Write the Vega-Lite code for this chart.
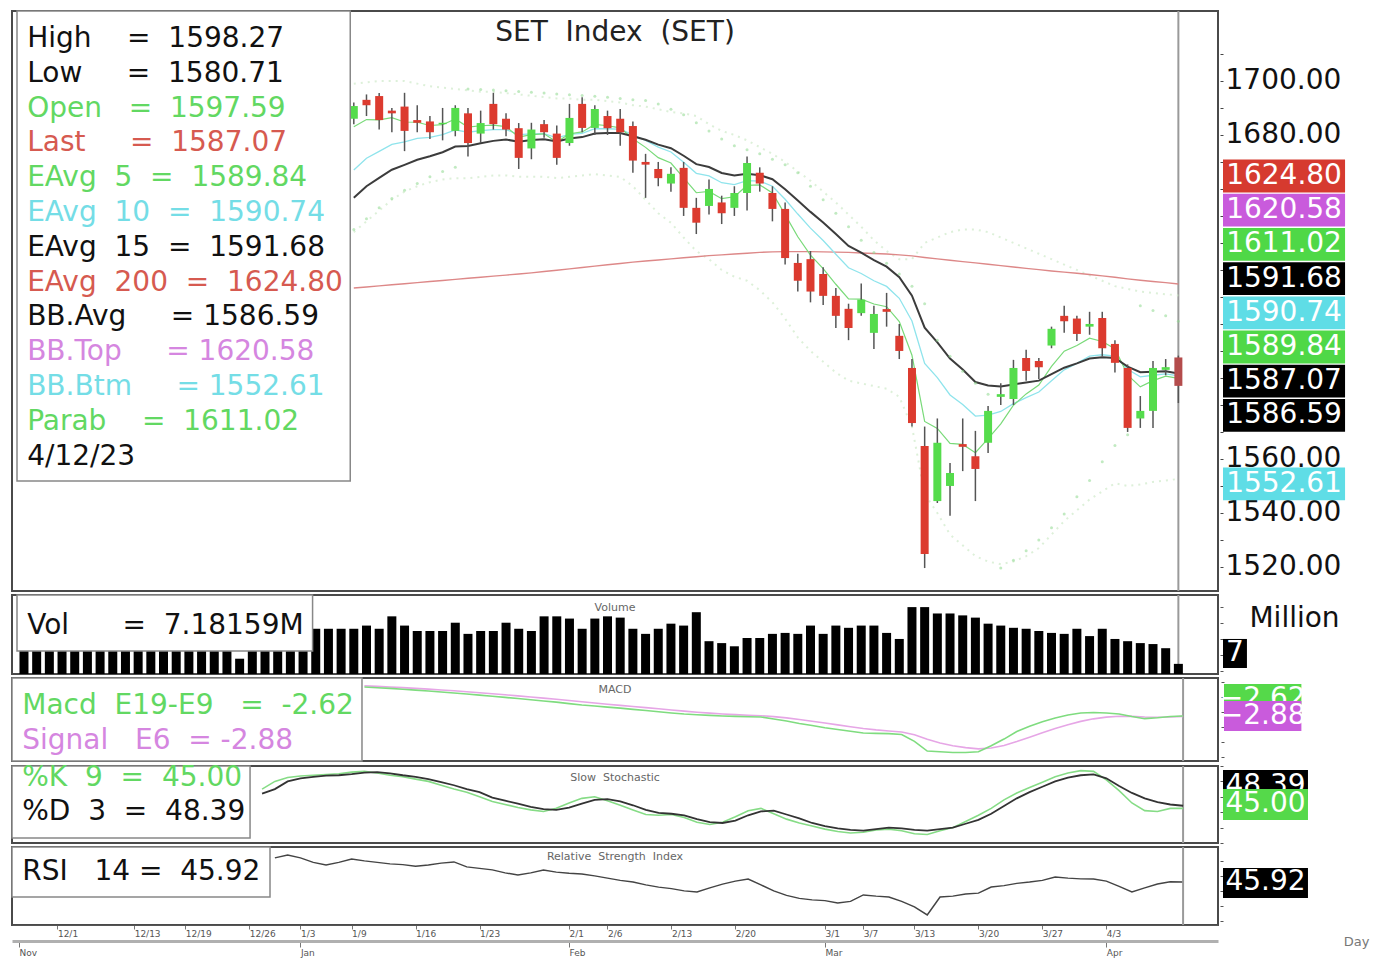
{
"$schema":"https://vega.github.io/schema/vega-lite/v6.json",
"background":"white",
"padding":{"left":10,"top":9,"right":8,"bottom":4},
"config":{"view":{"stroke":"#4a4a4a","strokeWidth":2},"font":"DejaVu Sans","title":{"font":"DejaVu Sans","fontWeight":"normal"},"axis":{"labelFont":"DejaVu Sans","titleFont":"DejaVu Sans","titleFontWeight":"normal"}},
"datasets":{
"px":[
{"i":0,"d":"11/28","v":17},{"i":1,"d":"11/29","v":18},{"i":2,"d":"11/30","v":16.5},{"i":3,"d":"12/1","v":17.5},{"i":4,"d":"12/2","v":19},{"i":5,"d":"12/6","v":16},{"i":6,"d":"12/7","v":18},{"i":7,"d":"12/8","v":17},{"i":8,"d":"12/9","v":16.5},{"i":9,"d":"12/13","v":18},{"i":10,"d":"12/14","v":17},{"i":11,"d":"12/15","v":19},{"i":12,"d":"12/16","v":16},{"i":13,"d":"12/19","v":17.5},{"i":14,"d":"12/20","v":18},{"i":15,"d":"12/21","v":16},{"i":16,"d":"12/22","v":17},{"i":17,"d":"12/23","v":8.8},{"i":18,"d":"12/26","v":15},
{"i":19,"d":"12/27","v":16,"k":70,"dd":64},
{"i":20,"d":"12/28","v":17,"k":80,"dd":70,"rsi":62},
{"i":21,"d":"12/29","v":15.5,"k":85,"dd":80,"rsi":63.9},
{"i":22,"d":"1/3","v":16,"k":87,"dd":84,"rsi":62},
{"i":23,"d":"1/4","v":18.2,"k":88,"dd":86,"rsi":59},
{"i":24,"d":"1/5","v":18.2,"k":89,"dd":87.5,"rsi":57.3},
{"i":25,"d":"1/6","v":18.2,"k":90,"dd":88,"rsi":59},
{"i":26,"d":"1/9","o":1686,"h":1692,"l":1684,"c":1690.7,"v":18.2,"e5":1683,"e10":1667,"e15":1656.7,"e200":1623.3,"bbt":1699,"bbb":1644,"sar":1645,"k":92,"dd":89.5,"rsi":61.3},
{"i":27,"d":"1/10","o":1693,"h":1695,"l":1687,"c":1691,"v":19.2,"e5":1685.7,"e10":1671.4,"e15":1661,"e200":1623.7,"bbt":1699.5,"bbb":1648,"sar":1649,"macd":16.7,"sig":17.5,"k":93,"dd":91.5,"rsi":60},
{"i":28,"d":"1/11","o":1694.4,"h":1695.5,"l":1682,"c":1685.5,"v":18.2,"e5":1685.6,"e10":1673.9,"e15":1664.1,"e200":1624.1,"bbt":1700,"bbb":1652,"sar":1653,"macd":16.2,"sig":17.13,"k":91,"dd":92,"rsi":59},
{"i":29,"d":"1/12","o":1689,"h":1690,"l":1681,"c":1688,"v":22.1,"e5":1686.4,"e10":1676.5,"e15":1667.1,"e200":1624.5,"bbt":1700,"bbb":1656,"sar":1656.5,"macd":15.8,"sig":16.75,"k":88,"dd":90.5,"rsi":58},
{"i":30,"d":"1/13","o":1690.5,"h":1695.6,"l":1674,"c":1681.5,"v":19.2,"e5":1684.8,"e10":1677.4,"e15":1668.9,"e200":1624.9,"bbt":1700,"bbb":1659,"sar":1659.5,"macd":15.2,"sig":16.31,"k":86,"dd":88,"rsi":57.5},
{"i":31,"d":"1/16","o":1685.5,"h":1691,"l":1681,"c":1684.5,"v":17.5,"e5":1684.7,"e10":1678.7,"e15":1670.8,"e200":1625.3,"bbt":1699,"bbb":1661,"sar":1662,"macd":14.6,"sig":15.82,"k":83,"dd":86,"rsi":56.5},
{"i":32,"d":"1/17","o":1685,"h":1687,"l":1678.5,"c":1681,"v":17.5,"e5":1683.5,"e10":1679.1,"e15":1672.1,"e200":1625.7,"bbt":1698,"bbb":1662.5,"sar":1664.5,"macd":14,"sig":15.3,"k":80,"dd":83,"rsi":57.3},
{"i":33,"d":"1/18","o":1684,"h":1690,"l":1678,"c":1684.5,"v":17.5,"e5":1683.8,"e10":1680.1,"e15":1673.6,"e200":1626.1,"bbt":1697.5,"bbb":1663.5,"sar":1666.5,"macd":13.4,"sig":14.76,"k":75,"dd":79,"rsi":58.5},
{"i":34,"d":"1/19","o":1681.5,"h":1691,"l":1679.5,"c":1690,"v":20.1,"e5":1685.9,"e10":1681.9,"e15":1675.7,"e200":1626.5,"bbt":1697,"bbb":1664,"sar":1668,"macd":12.7,"sig":14.17,"k":70,"dd":75,"rsi":59.3},
{"i":35,"d":"1/20","o":1688,"h":1690,"l":1672,"c":1677,"v":16.6,"e5":1682.9,"e10":1681,"e15":1675.9,"e200":1626.9,"bbt":1696.5,"bbb":1664,"sar":1697,"macd":12,"sig":13.55,"k":66,"dd":70,"rsi":56},
{"i":36,"d":"1/23","o":1680.5,"h":1689,"l":1677,"c":1684.4,"v":17.5,"e5":1683.4,"e10":1681.6,"e15":1676.9,"e200":1627.3,"bbt":1696,"bbb":1664.5,"sar":1696.8,"macd":11.3,"sig":12.91,"k":60,"dd":66,"rsi":55},
{"i":37,"d":"1/24","o":1691.5,"h":1695.6,"l":1682,"c":1684,"v":17.5,"e5":1683.6,"e10":1682,"e15":1677.8,"e200":1627.7,"bbt":1696,"bbb":1665,"sar":1696.6,"macd":10.5,"sig":12.22,"k":54,"dd":59,"rsi":54},
{"i":38,"d":"1/25","o":1686,"h":1688,"l":1679.5,"c":1682,"v":20.1,"e5":1683.1,"e10":1682,"e15":1678.3,"e200":1628.1,"bbt":1695.5,"bbb":1665,"sar":1696.4,"macd":9.8,"sig":11.53,"k":50,"dd":55,"rsi":52},
{"i":39,"d":"1/26","o":1682.5,"h":1684.4,"l":1667.4,"c":1671.5,"v":18.2,"e5":1679.2,"e10":1680.1,"e15":1677.5,"e200":1628.5,"bbt":1695,"bbb":1664.5,"sar":1696.1,"macd":9,"sig":10.81,"k":46,"dd":51,"rsi":50.6},
{"i":40,"d":"1/27","o":1675,"h":1684.5,"l":1671,"c":1682,"v":17.5,"e5":1680.1,"e10":1680.4,"e15":1678.1,"e200":1628.9,"bbt":1694.5,"bbb":1664.5,"sar":1695.8,"macd":8.2,"sig":10.06,"k":43,"dd":47,"rsi":52},
{"i":41,"d":"1/30","o":1684,"h":1685.5,"l":1679,"c":1681,"v":22.1,"e5":1680.4,"e10":1680.5,"e15":1678.4,"e200":1629.4,"bbt":1694,"bbb":1664.5,"sar":1695.5,"macd":7.4,"sig":9.3,"k":41,"dd":44,"rsi":53.9},
{"i":42,"d":"1/31","o":1680.5,"h":1683.5,"l":1669,"c":1671.5,"v":22.1,"e5":1677.4,"e10":1678.9,"e15":1677.6,"e200":1629.9,"bbt":1693.5,"bbb":1664,"sar":1695.2,"macd":6.6,"sig":8.53,"k":45,"dd":43,"rsi":52.5},
{"i":43,"d":"2/1","o":1677,"h":1691.5,"l":1676,"c":1686.3,"v":21.4,"e5":1680.4,"e10":1680.2,"e15":1678.7,"e200":1630.4,"bbt":1693.5,"bbb":1664.5,"sar":1694.9,"macd":5.6,"sig":7.69,"k":52,"dd":46,"rsi":51.8},
{"i":44,"d":"2/2","o":1691.5,"h":1694,"l":1681,"c":1682.6,"v":18.2,"e5":1681.1,"e10":1680.6,"e15":1679.2,"e200":1630.9,"bbt":1693,"bbb":1665,"sar":1694.6,"macd":4.7,"sig":6.84,"k":58,"dd":51,"rsi":51.3},
{"i":45,"d":"2/3","o":1682.6,"h":1691,"l":1680,"c":1689.6,"v":21.4,"e5":1683.9,"e10":1682.3,"e15":1680.5,"e200":1631.4,"bbt":1693,"bbb":1665.5,"sar":1694.3,"macd":4,"sig":6.03,"k":60,"dd":56,"rsi":50},
{"i":46,"d":"2/6","o":1687,"h":1689,"l":1680,"c":1682.5,"v":22.1,"e5":1683.4,"e10":1682.3,"e15":1680.7,"e200":1631.9,"bbt":1692.5,"bbb":1665,"sar":1694,"macd":3.3,"sig":5.25,"k":55,"dd":57,"rsi":48.5},
{"i":47,"d":"2/7","o":1686,"h":1689.6,"l":1676,"c":1681,"v":21.7,"e5":1682.6,"e10":1682.1,"e15":1680.7,"e200":1632.4,"bbt":1692,"bbb":1664.5,"sar":1693.5,"macd":2.6,"sig":4.49,"k":49,"dd":54,"rsi":47},
{"i":48,"d":"2/8","o":1683.3,"h":1685,"l":1666,"c":1670.5,"v":18.2,"e5":1678.6,"e10":1680,"e15":1679.5,"e200":1632.9,"bbt":1691,"bbb":1661,"sar":1693,"macd":1.8,"sig":3.72,"k":43,"dd":49,"rsi":45.9},
{"i":49,"d":"2/9","o":1670,"h":1673,"l":1656.7,"c":1669,"v":16.6,"e5":1675.4,"e10":1678,"e15":1678.2,"e200":1633.3,"bbt":1690.5,"bbb":1656,"sar":1692.8,"macd":1,"sig":2.94,"k":37,"dd":43,"rsi":44},
{"i":50,"d":"2/10","o":1667.4,"h":1670,"l":1661,"c":1664,"v":18.2,"e5":1671.6,"e10":1675.5,"e15":1676.4,"e200":1633.7,"bbt":1689.5,"bbb":1651,"sar":1691.5,"macd":0.2,"sig":2.16,"k":36,"dd":39,"rsi":42.5},
{"i":51,"d":"2/13","o":1662,"h":1668,"l":1659,"c":1665.6,"v":19.8,"e5":1669.6,"e10":1673.7,"e15":1675.1,"e200":1634.1,"bbt":1688.5,"bbb":1647.5,"sar":1689.5,"macd":-0.6,"sig":1.37,"k":37,"dd":38,"rsi":41.5},
{"i":52,"d":"2/14","o":1667.8,"h":1670,"l":1650,"c":1653,"v":19.2,"e5":1664.1,"e10":1669.9,"e15":1672.3,"e200":1634.5,"bbt":1688,"bbb":1642,"sar":1687.5,"macd":-1.3,"sig":0.61,"k":33,"dd":36,"rsi":40},
{"i":53,"d":"2/15","o":1653,"h":1656.7,"l":1643.3,"c":1647.5,"v":23.4,"e5":1658.6,"e10":1665.8,"e15":1669.2,"e200":1634.9,"bbt":1687,"bbb":1637,"sar":1684.5,"macd":-1.8,"sig":-0.08,"k":27,"dd":31,"rsi":39.3},
{"i":54,"d":"2/16","o":1653.7,"h":1663.5,"l":1650.5,"c":1660,"v":14.3,"e5":1659.1,"e10":1664.8,"e15":1668.1,"e200":1635.3,"bbt":1684,"bbb":1634,"sar":1681.5,"macd":-2.2,"sig":-0.69,"k":24,"dd":27,"rsi":42},
{"i":55,"d":"2/17","o":1655,"h":1657.5,"l":1647,"c":1651,"v":13.7,"e5":1656.4,"e10":1662.3,"e15":1665.9,"e200":1635.6,"bbt":1681.5,"bbb":1630,"sar":1678.5,"macd":-2.6,"sig":-1.24,"k":27,"dd":26,"rsi":44.5},
{"i":56,"d":"2/20","o":1653,"h":1661,"l":1650,"c":1658.5,"v":12.7,"e5":1657.1,"e10":1661.6,"e15":1665,"e200":1635.9,"bbt":1680,"bbb":1627.5,"sar":1676,"macd":-2.9,"sig":-1.71,"k":34,"dd":29,"rsi":46.5},
{"i":57,"d":"2/21","o":1658.5,"h":1672,"l":1652,"c":1669.6,"v":15.3,"e5":1661.3,"e10":1663.1,"e15":1665.6,"e200":1636.2,"bbt":1678,"bbb":1626,"sar":1674.5,"macd":-3.1,"sig":-2.11,"k":42,"dd":36,"rsi":47.9},
{"i":58,"d":"2/22","o":1666,"h":1668,"l":1659,"c":1662,"v":15.3,"e5":1661.5,"e10":1662.9,"e15":1665.1,"e200":1636.5,"bbt":1675.5,"bbb":1622.5,"sar":1673,"macd":-3.3,"sig":-2.45,"k":45,"dd":41,"rsi":44},
{"i":59,"d":"2/23","o":1658.5,"h":1661,"l":1648,"c":1652.6,"v":16.6,"e5":1658.5,"e10":1661,"e15":1663.6,"e200":1636.7,"bbt":1673,"bbb":1618,"sar":1671,"macd":-4.6,"sig":-3.06,"k":38,"dd":42,"rsi":40},
{"i":60,"d":"2/24","o":1652.6,"h":1655,"l":1632,"c":1634.4,"v":16.9,"e5":1650.5,"e10":1656.2,"e15":1659.9,"e200":1636.8,"bbt":1670,"bbb":1612,"sar":1669,"macd":-6,"sig":-3.9,"k":31,"dd":37,"rsi":37},
{"i":61,"d":"2/27","o":1632.6,"h":1636,"l":1622,"c":1626,"v":16.6,"e5":1642.3,"e10":1650.7,"e15":1655.7,"e200":1636.8,"bbt":1666.5,"bbb":1605,"sar":1666,"macd":-7.6,"sig":-4.96,"k":26,"dd":32,"rsi":35},
{"i":62,"d":"2/28","o":1634,"h":1637,"l":1618,"c":1622,"v":19.2,"e5":1635.5,"e10":1645.5,"e15":1651.5,"e200":1636.8,"bbt":1663,"bbb":1600,"sar":1661,"macd":-9,"sig":-6.11,"k":22,"dd":26,"rsi":34},
{"i":63,"d":"3/1","o":1628.5,"h":1631,"l":1617,"c":1620.4,"v":16.6,"e5":1630.5,"e10":1640.9,"e15":1647.6,"e200":1636.7,"bbt":1659,"bbb":1596,"sar":1656,"macd":-10.4,"sig":-7.34,"k":18,"dd":22,"rsi":33.5},
{"i":64,"d":"3/2","o":1620.4,"h":1623.3,"l":1608.5,"c":1613,"v":19.2,"e5":1624.7,"e10":1635.8,"e15":1643.3,"e200":1636.6,"bbt":1655,"bbb":1592,"sar":1651,"macd":-11.6,"sig":-8.56,"k":15,"dd":19,"rsi":32},
{"i":65,"d":"3/3","o":1615.6,"h":1617.5,"l":1604,"c":1608.5,"v":18.5,"e5":1619.3,"e10":1630.8,"e15":1638.9,"e200":1636.5,"bbt":1650.5,"bbb":1589,"sar":1646,"macd":-12.8,"sig":-9.77,"k":13,"dd":17,"rsi":33},
{"i":66,"d":"3/7","o":1614,"h":1625,"l":1613,"c":1619,"v":19.2,"e5":1619.2,"e10":1628.7,"e15":1636.4,"e200":1636.3,"bbt":1646,"bbb":1588,"sar":1641,"macd":-14,"sig":-10.98,"k":14,"dd":16,"rsi":37.3},
{"i":67,"d":"3/8","o":1606.7,"h":1616.7,"l":1600.7,"c":1613.7,"v":19.2,"e5":1617.4,"e10":1626,"e15":1633.6,"e200":1636.1,"bbt":1641,"bbb":1587,"sar":1636.5,"macd":-14.2,"sig":-11.9,"k":17,"dd":18,"rsi":36.5},
{"i":68,"d":"3/9","o":1615.5,"h":1621.5,"l":1609,"c":1614.5,"v":16.9,"e5":1616.4,"e10":1623.9,"e15":1631.2,"e200":1635.9,"bbt":1637,"bbb":1586,"sar":1632.5,"macd":-14.4,"sig":-12.61,"k":18,"dd":20,"rsi":35.9},
{"i":69,"d":"3/10","o":1605.6,"h":1610,"l":1597,"c":1600,"v":15,"e5":1610.9,"e10":1619.5,"e15":1627.3,"e200":1635.6,"bbt":1634,"bbb":1583,"sar":1628.5,"macd":-15,"sig":-13.29,"k":16,"dd":19,"rsi":33},
{"i":70,"d":"3/13","o":1593.7,"h":1597,"l":1572,"c":1573.3,"v":25,"e5":1598.4,"e10":1611.1,"e15":1620.5,"e200":1635.2,"bbt":1634,"bbb":1572,"sar":1624,"macd":-19.5,"sig":-15.06,"k":12,"dd":17,"rsi":29.3},
{"i":71,"d":"3/14","o":1564.8,"h":1572,"l":1519.6,"c":1524.8,"v":25,"e5":1573.9,"e10":1595.4,"e15":1608.6,"e200":1634.6,"bbt":1640,"bbb":1547,"sar":1617.5,"macd":-26,"sig":-18.19,"k":11,"dd":16,"rsi":24},
{"i":72,"d":"3/15","o":1544.4,"h":1575,"l":1543.7,"c":1566,"v":23,"e5":1571.3,"e10":1590.1,"e15":1603.2,"e200":1634.1,"bbt":1642,"bbb":1540,"sar":1604,"macd":-26.5,"sig":-20.56,"k":16,"dd":18,"rsi":35.9},
{"i":73,"d":"3/16","o":1550,"h":1558.5,"l":1539,"c":1554.8,"v":23,"e5":1565.8,"e10":1583.7,"e15":1597.2,"e200":1633.6,"bbt":1644,"bbb":1532,"sar":1598,"macd":-27,"sig":-22.4,"k":20,"dd":20,"rsi":36.5},
{"i":74,"d":"3/17","o":1565.5,"h":1575,"l":1555.5,"c":1564.5,"v":22.4,"e5":1565.4,"e10":1580.2,"e15":1593.1,"e200":1633.1,"bbt":1645,"bbb":1528,"sar":1592.5,"macd":-27,"sig":-23.71,"k":28,"dd":25,"rsi":37.9},
{"i":75,"d":"3/20","o":1561,"h":1570.4,"l":1544.4,"c":1556.3,"v":21.7,"e5":1562.3,"e10":1575.9,"e15":1588.5,"e200":1632.6,"bbt":1645,"bbb":1524,"sar":1588,"macd":-26.5,"sig":-24.51,"k":36,"dd":30,"rsi":38.5},
{"i":76,"d":"3/21","o":1566,"h":1579.6,"l":1562.2,"c":1577.8,"v":19.8,"e5":1567.5,"e10":1576.2,"e15":1587.2,"e200":1632.1,"bbt":1644,"bbb":1522,"sar":1584,"macd":-22.5,"sig":-23.94,"k":45,"dd":38,"rsi":42.6},
{"i":77,"d":"3/22","o":1583,"h":1588,"l":1580,"c":1584,"v":19.2,"e5":1573,"e10":1577.6,"e15":1586.8,"e200":1631.6,"bbt":1642,"bbb":1521,"sar":1519.6,"macd":-18,"sig":-22.24,"k":56,"dd":48,"rsi":43.5},
{"i":78,"d":"3/23","o":1582.2,"h":1596.7,"l":1580,"c":1593.7,"v":18.5,"e5":1579.9,"e10":1580.5,"e15":1587.6,"e200":1631.1,"bbt":1640,"bbb":1522,"sar":1522.5,"macd":-13,"sig":-19.6,"k":65,"dd":58,"rsi":45},
{"i":79,"d":"3/24","o":1597.4,"h":1600.4,"l":1589,"c":1592.6,"v":18.2,"e5":1584.1,"e10":1582.7,"e15":1588.3,"e200":1630.6,"bbt":1638,"bbb":1524,"sar":1526,"macd":-9.5,"sig":-16.71,"k":72,"dd":66,"rsi":45.9},
{"i":80,"d":"3/27","o":1596.3,"h":1597.4,"l":1589.6,"c":1594,"v":17.5,"e5":1587.4,"e10":1584.8,"e15":1589,"e200":1630.1,"bbt":1636,"bbb":1527,"sar":1530,"macd":-6.5,"sig":-13.79,"k":79,"dd":73,"rsi":47},
{"i":81,"d":"3/28","o":1602,"h":1609,"l":1601,"c":1608.2,"v":16.9,"e5":1594.3,"e10":1589,"e15":1591.4,"e200":1629.6,"bbt":1634,"bbb":1532,"sar":1534.5,"macd":-4,"sig":-10.99,"k":86,"dd":80,"rsi":49.3},
{"i":82,"d":"3/29","o":1613,"h":1616.7,"l":1606.7,"c":1611,"v":16.6,"e5":1599.9,"e10":1593,"e15":1593.8,"e200":1629.2,"bbt":1632,"bbb":1537,"sar":1539.6,"macd":-2,"sig":-8.42,"k":91,"dd":85,"rsi":48.5},
{"i":83,"d":"3/30","o":1612,"h":1613,"l":1603.7,"c":1606.3,"v":18.2,"e5":1602,"e10":1595.4,"e15":1595.4,"e200":1628.8,"bbt":1630,"bbb":1541,"sar":1546,"macd":-0.6,"sig":-6.19,"k":94,"dd":88,"rsi":48},
{"i":84,"d":"3/31","o":1609,"h":1614.5,"l":1606,"c":1610,"v":15.9,"e5":1604.7,"e10":1598.1,"e15":1597.2,"e200":1628.3,"bbt":1628,"bbb":1545,"sar":1552,"macd":-0.3,"sig":-4.51,"k":93,"dd":89,"rsi":47.9},
{"i":85,"d":"4/3","o":1612.2,"h":1614.5,"l":1598,"c":1601,"v":18.2,"e5":1603.5,"e10":1598.6,"e15":1597.7,"e200":1627.8,"bbt":1626,"bbb":1548,"sar":1559,"macd":-0.6,"sig":-3.39,"k":82,"dd":84,"rsi":46.5},
{"i":86,"d":"4/4","o":1602.6,"h":1604,"l":1592,"c":1595.6,"v":15,"e5":1600.8,"e10":1598.1,"e15":1597.4,"e200":1627.3,"bbt":1624,"bbb":1551,"sar":1565,"macd":-1.3,"sig":-2.79,"k":68,"dd":74,"rsi":43},
{"i":87,"d":"4/5","o":1593.7,"h":1595,"l":1570,"c":1571.5,"v":14.3,"e5":1591.1,"e10":1593.2,"e15":1594.2,"e200":1626.7,"bbt":1623,"bbb":1550,"sar":1569,"macd":-3,"sig":-2.85,"k":52,"dd":65,"rsi":39.3},
{"i":88,"d":"4/7","o":1575,"h":1583.3,"l":1571.5,"c":1577.8,"v":13.7,"e5":1586.7,"e10":1590.4,"e15":1592.1,"e200":1626.2,"bbt":1622,"bbb":1550.5,"sar":1616.7,"macd":-4.4,"sig":-3.29,"k":42,"dd":58,"rsi":42},
{"i":89,"d":"4/10","o":1577.8,"h":1596.3,"l":1571.5,"c":1593.7,"v":13.4,"e5":1589,"e10":1591,"e15":1592.3,"e200":1625.7,"bbt":1621.5,"bbb":1551.5,"sar":1615,"macd":-3.8,"sig":-3.44,"k":41,"dd":53,"rsi":44.6},
{"i":90,"d":"4/11","o":1593,"h":1597,"l":1591,"c":1594,"v":12.1,"e5":1590.7,"e10":1591.5,"e15":1592.5,"e200":1625.3,"bbt":1621,"bbb":1552,"sar":1613,"macd":-3,"sig":-3.31,"k":45,"dd":50,"rsi":46},
{"i":91,"d":"4/12","o":1597.59,"h":1598.27,"l":1580.71,"c":1587.07,"v":7.18159,"e5":1589.84,"e10":1590.74,"e15":1591.68,"e200":1624.8,"bbt":1620.58,"bbb":1552.61,"sar":1611.02,"macd":-2.62,"sig":-2.88,"k":45,"dd":48.39,"rsi":45.92}
],
"leg":[
{"k":"High","t":"High\u00a0\u00a0\u00a0\u00a0=\u00a0\u00a01598.27"},
{"k":"Low","t":"Low\u00a0\u00a0\u00a0\u00a0\u00a0=\u00a0\u00a01580.71"},
{"k":"Open","t":"Open\u00a0\u00a0\u00a0=\u00a0\u00a01597.59"},
{"k":"Last","t":"Last\u00a0\u00a0\u00a0\u00a0\u00a0=\u00a0\u00a01587.07"},
{"k":"EAvg 5","t":"EAvg\u00a0\u00a05\u00a0\u00a0=\u00a0\u00a01589.84"},
{"k":"EAvg 10","t":"EAvg\u00a0\u00a010\u00a0\u00a0=\u00a0\u00a01590.74"},
{"k":"EAvg 15","t":"EAvg\u00a0\u00a015\u00a0\u00a0=\u00a0\u00a01591.68"},
{"k":"EAvg 200","t":"EAvg\u00a0\u00a0200\u00a0\u00a0=\u00a0\u00a01624.80"},
{"k":"BB.Avg","t":"BB.Avg\u00a0\u00a0\u00a0\u00a0\u00a0=\u00a01586.59"},
{"k":"BB.Top","t":"BB.Top\u00a0\u00a0\u00a0\u00a0\u00a0=\u00a01620.58"},
{"k":"BB.Btm","t":"BB.Btm\u00a0\u00a0\u00a0\u00a0\u00a0=\u00a01552.61"},
{"k":"Parab","t":"Parab\u00a0\u00a0\u00a0\u00a0=\u00a0\u00a01611.02"},
{"k":"Date","t":"\u00a0\u00a04/12/23"}
],
"sideMain":[
{"k":"EAvg 200","v":1624.80},{"k":"BB.Top","v":1620.58},{"k":"Parab","v":1611.02},{"k":"EAvg 15","v":1591.68},{"k":"EAvg 10","v":1590.74},{"k":"EAvg 5","v":1589.84},{"k":"Last","v":1587.07},{"k":"BB.Avg","v":1586.59},{"k":"BB.Btm","v":1552.61}
]
},
"spacing":0,
"vconcat":[
{"spacing":0,"hconcat":[
 {"width":1206,"height":580,
  "data":{"name":"px"},
  "layer":[
   {"layer":[
     {"data":{"values":[{"i":91}]},"mark":{"type":"rule","color":"#9a9a9a","strokeWidth":2},"encoding":{"x":{"field":"i","type":"quantitative","scale":{"domain":[-0.55,93.73],"nice":false,"zero":false},"axis":null}}},
     {"mark":{"type":"line","color":"#cfe9c9","strokeWidth":2,"strokeDash":[2,5],"opacity":0.7},"encoding":{"x":{"field":"i","type":"quantitative","scale":{"domain":[-0.55,93.73],"nice":false,"zero":false},"axis":null},"y":{"field":"bbt","type":"quantitative","scale":{"domain":[1511.1,1725.9],"nice":false,"zero":false},"axis":null}}},
     {"mark":{"type":"line","color":"#cfe9c9","strokeWidth":2,"strokeDash":[2,5],"opacity":0.7},"encoding":{"x":{"field":"i","type":"quantitative","scale":{"domain":[-0.55,93.73],"nice":false,"zero":false},"axis":null},"y":{"field":"bbb","type":"quantitative","scale":{"domain":[1511.1,1725.9],"nice":false,"zero":false},"axis":null}}},
     {"mark":{"type":"line","color":"#dd8888","strokeWidth":1.4},"encoding":{"x":{"field":"i","type":"quantitative","scale":{"domain":[-0.55,93.73],"nice":false,"zero":false},"axis":null},"y":{"field":"e200","type":"quantitative","scale":{"domain":[1511.1,1725.9],"nice":false,"zero":false},"axis":null}}},
     {"mark":{"type":"line","color":"#8fe4ec","strokeWidth":1.3},"encoding":{"x":{"field":"i","type":"quantitative","scale":{"domain":[-0.55,93.73],"nice":false,"zero":false},"axis":null},"y":{"field":"e10","type":"quantitative","scale":{"domain":[1511.1,1725.9],"nice":false,"zero":false},"axis":null}}},
     {"mark":{"type":"line","color":"#79da79","strokeWidth":1.2},"encoding":{"x":{"field":"i","type":"quantitative","scale":{"domain":[-0.55,93.73],"nice":false,"zero":false},"axis":null},"y":{"field":"e5","type":"quantitative","scale":{"domain":[1511.1,1725.9],"nice":false,"zero":false},"axis":null}}},
     {"mark":{"type":"line","color":"#3c3c3c","strokeWidth":2},"encoding":{"x":{"field":"i","type":"quantitative","scale":{"domain":[-0.55,93.73],"nice":false,"zero":false},"axis":null},"y":{"field":"e15","type":"quantitative","scale":{"domain":[1511.1,1725.9],"nice":false,"zero":false},"axis":null}}},
     {"mark":{"type":"point","filled":true,"size":9,"color":"#8ed88e","opacity":0.55},"encoding":{"x":{"field":"i","type":"quantitative","scale":{"domain":[-0.55,93.73],"nice":false,"zero":false},"axis":null},"y":{"field":"sar","type":"quantitative","scale":{"domain":[1511.1,1725.9],"nice":false,"zero":false},"axis":null}}},
     {"mark":{"type":"rule","color":"#555555","strokeWidth":1.5},"encoding":{"x":{"field":"i","type":"quantitative","scale":{"domain":[-0.55,93.73],"nice":false,"zero":false},"axis":null},"y":{"field":"l","type":"quantitative","scale":{"domain":[1511.1,1725.9],"nice":false,"zero":false},"axis":null},"y2":{"field":"h"}}},
     {"mark":{"type":"bar","size":8},"encoding":{"x":{"field":"i","type":"quantitative","scale":{"domain":[-0.55,93.73],"nice":false,"zero":false},"axis":null},"y":{"field":"o","type":"quantitative","scale":{"domain":[1511.1,1725.9],"nice":false,"zero":false},"axis":null},"y2":{"field":"c"},"color":{"condition":[{"test":"datum.i == 91","value":"#b44c4c"},{"test":"datum.c >= datum.o","value":"#55dc4c"}],"value":"#dc3b2f"}}},
     {"data":{"values":[{}]},"mark":{"type":"rect","fill":"#ffffff","stroke":"#888888","strokeWidth":1.5},"encoding":{"x":{"datum":-0.55,"type":"quantitative","scale":{"domain":[-0.55,93.73],"nice":false,"zero":false},"axis":null},"x2":{"datum":25.72},"y":{"datum":1725.9,"type":"quantitative","scale":{"domain":[1511.1,1725.9],"nice":false,"zero":false},"axis":null},"y2":{"datum":1551.85}}},
     {"data":{"values":[{"t":"SET\u00a0\u00a0Index\u00a0\u00a0(SET)"}]},"mark":{"type":"text","font":"DejaVu Sans","fontSize":28,"color":"#222222","align":"center","baseline":"middle"},"encoding":{"x":{"datum":46.59,"type":"quantitative","scale":{"domain":[-0.55,93.73],"nice":false,"zero":false},"axis":null},"y":{"datum":1717.8,"type":"quantitative","scale":{"domain":[1511.1,1725.9],"nice":false,"zero":false},"axis":null},"text":{"field":"t"}}}
    ]},
   {"data":{"name":"leg"},"mark":{"type":"text","font":"DejaVu Sans","fontSize":28,"align":"left","baseline":"middle"},
    "encoding":{"x":{"datum":0.25,"type":"quantitative","scale":{"domain":[-0.55,93.73],"nice":false,"zero":false},"axis":null},
     "y":{"field":"k","type":"ordinal","scale":{"type":"band","domain":["High","Low","Open","Last","EAvg 5","EAvg 10","EAvg 15","EAvg 200","BB.Avg","BB.Top","BB.Btm","Parab","Date","z1","z2","z3"],"paddingInner":0,"paddingOuter":0.333,"align":0.457},"axis":null},
     "text":{"field":"t"},
     "color":{"field":"k","type":"nominal","scale":{"domain":["High","Low","Open","Last","EAvg 5","EAvg 10","EAvg 15","EAvg 200","BB.Avg","BB.Top","BB.Btm","Parab","Date"],"range":["#111111","#111111","#62d862","#d65a50","#62d862","#74dde6","#111111","#d65a50","#111111","#d586e0","#74dde6","#62d862","#111111"]},"legend":null}}}
  ],
  "resolve":{"scale":{"y":"independent","color":"independent"}}
 },
 {"width":146,"height":580,"view":{"stroke":null},
  "layer":[
   {"data":{"name":"sideMain"},"mark":{"type":"point","opacity":0},
    "encoding":{"y":{"field":"v","type":"quantitative","scale":{"domain":[1511.1,1725.9],"nice":false,"zero":false},
     "axis":{"orient":"left","values":[1520,1530,1540,1550,1560,1570,1580,1590,1600,1610,1620,1630,1640,1650,1660,1670,1680,1690,1700,1710],"labelExpr":"(datum.value == 1520 || datum.value == 1540 || datum.value == 1560 || datum.value == 1680 || datum.value == 1700) ? format(datum.value, '.2f') : ''","labelAlign":"left","labelBaseline":"middle","labelPadding":-5,"labelFont":"DejaVu Sans","labelFontSize":28,"labelColor":"#111111","tickSize":3,"tickColor":"#444444","domain":false,"grid":false,"title":null,"labelOverlap":false,"labelBound":false,"labelFlush":false}}}},
   {"data":{"name":"sideMain"},
    "layer":[
     {"mark":{"type":"rect"},"encoding":{
       "y":{"field":"k","type":"ordinal","scale":{"type":"band","domain":["s1","s2","s3","s4","EAvg 200","BB.Top","Parab","EAvg 15","EAvg 10","EAvg 5","Last","BB.Avg","s5","BB.Btm","s6","s7"],"paddingInner":0.04,"paddingOuter":0.4995,"align":0.345},"axis":null},
       "x":{"datum":0,"type":"quantitative","scale":{"domain":[0,1],"nice":false,"zero":false},"axis":null},"x2":{"datum":0.836},
       "color":{"field":"k","type":"nominal","scale":{"domain":["EAvg 200","BB.Top","Parab","EAvg 15","EAvg 10","EAvg 5","Last","BB.Avg","BB.Btm"],"range":["#d63a2f","#c95bdc","#4fd847","#000000","#5fdde6","#4fd847","#000000","#000000","#5fdde6"]},"legend":null}}},
     {"mark":{"type":"text","font":"DejaVu Sans","fontSize":28,"color":"#ffffff","align":"center","baseline":"middle"},"encoding":{
       "y":{"field":"k","type":"ordinal","scale":{"type":"band","domain":["s1","s2","s3","s4","EAvg 200","BB.Top","Parab","EAvg 15","EAvg 10","EAvg 5","Last","BB.Avg","s5","BB.Btm","s6","s7"],"paddingInner":0.04,"paddingOuter":0.4995,"align":0.345},"axis":null},
       "x":{"datum":0.418,"type":"quantitative","scale":{"domain":[0,1],"nice":false,"zero":false},"axis":null},
       "text":{"field":"v","format":".2f"}}}
    ]}
  ],
  "resolve":{"scale":{"y":"independent"}}
 }
]},
{"spacing":0,"hconcat":[
 {"width":1206,"height":79,
  "data":{"name":"px"},
  "layer":[
   {"data":{"values":[{"i":91}]},"mark":{"type":"rule","color":"#9a9a9a","strokeWidth":2},"encoding":{"x":{"field":"i","type":"quantitative","scale":{"domain":[-0.55,93.73],"nice":false,"zero":false},"axis":null}}},
   {"mark":{"type":"bar","size":9,"color":"#000000"},"encoding":{"x":{"field":"i","type":"quantitative","scale":{"domain":[-0.55,93.73],"nice":false,"zero":false},"axis":null},"y":{"field":"v","type":"quantitative","scale":{"domain":[4,28.8],"nice":false,"zero":false},"axis":null},"y2":{"datum":4}}},
   {"data":{"values":[{"t":"Volume"}]},"mark":{"type":"text","font":"DejaVu Sans","fontSize":11,"color":"#666666","align":"center","baseline":"middle"},"encoding":{"x":{"datum":46.59,"type":"quantitative","scale":{"domain":[-0.55,93.73],"nice":false,"zero":false},"axis":null},"y":{"datum":24.7,"type":"quantitative","scale":{"domain":[4,28.8],"nice":false,"zero":false},"axis":null},"text":{"field":"t"}}},
   {"data":{"values":[{}]},"mark":{"type":"rect","fill":"#ffffff","stroke":"#888888","strokeWidth":1.5},"encoding":{"x":{"datum":-0.55,"type":"quantitative","scale":{"domain":[-0.55,93.73],"nice":false,"zero":false},"axis":null},"x2":{"datum":22.75},"y":{"datum":28.8,"type":"quantitative","scale":{"domain":[4,28.8],"nice":false,"zero":false},"axis":null},"y2":{"datum":11.2}}},
   {"data":{"values":[{"t":"Vol\u00a0\u00a0\u00a0\u00a0\u00a0\u00a0=\u00a0\u00a07.18159M"}]},"mark":{"type":"text","font":"DejaVu Sans","fontSize":28,"align":"left","baseline":"middle","color":"#111111"},"encoding":{"x":{"datum":0.25,"type":"quantitative","scale":{"domain":[-0.55,93.73],"nice":false,"zero":false},"axis":null},"y":{"datum":19.07,"type":"quantitative","scale":{"domain":[4,28.8],"nice":false,"zero":false},"axis":null},"text":{"field":"t"}}}
  ]
 },
 {"width":146,"height":79,"view":{"stroke":null},
  "data":{"values":[{"k":"Vol","v":7.18159}]},
  "layer":[
   {"mark":{"type":"rect","color":"#000000"},"encoding":{"x":{"datum":0,"type":"quantitative","scale":{"domain":[0,1],"nice":false,"zero":false},"axis":null},"x2":{"datum":0.164},"y":{"datum":15,"type":"quantitative","scale":{"domain":[4,28.8],"nice":false,"zero":false},"axis":{"orient":"left","labels":false,"tickSize":3,"tickCount":6,"tickColor":"#555555","domain":false,"grid":false,"title":null}},"y2":{"datum":5.88}}},
   {"mark":{"type":"text","font":"DejaVu Sans","fontSize":28,"color":"#ffffff","align":"center","baseline":"middle"},"encoding":{"x":{"datum":0.082,"type":"quantitative","scale":{"domain":[0,1],"nice":false,"zero":false},"axis":null},"y":{"datum":10.6,"type":"quantitative","scale":{"domain":[4,28.8],"nice":false,"zero":false},"axis":{"orient":"left","labels":false,"tickSize":3,"tickCount":6,"tickColor":"#555555","domain":false,"grid":false,"title":null}},"text":{"field":"v","format":".0f"}}},
   {"data":{"values":[{"t":"Million"}]},"mark":{"type":"text","font":"DejaVu Sans","fontSize":28,"color":"#111111","align":"center","baseline":"middle"},"encoding":{"x":{"datum":0.49,"type":"quantitative","scale":{"domain":[0,1],"nice":false,"zero":false},"axis":null},"y":{"datum":21.27,"type":"quantitative","scale":{"domain":[4,28.8],"nice":false,"zero":false},"axis":{"orient":"left","labels":false,"tickSize":3,"tickCount":6,"tickColor":"#555555","domain":false,"grid":false,"title":null}},"text":{"field":"t"}}}
  ]
 }
]},
{"spacing":0,"hconcat":[
 {"width":1206,"height":83,
  "data":{"name":"px"},
  "layer":[
   {"data":{"values":[{"i":91}]},"mark":{"type":"rule","color":"#9a9a9a","strokeWidth":2},"encoding":{"x":{"field":"i","type":"quantitative","scale":{"domain":[-0.55,93.73],"nice":false,"zero":false},"axis":null}}},
   {"mark":{"type":"line","color":"#e6a6e6","strokeWidth":1.6},"encoding":{"x":{"field":"i","type":"quantitative","scale":{"domain":[-0.55,93.73],"nice":false,"zero":false},"axis":null},"y":{"field":"sig","type":"quantitative","scale":{"domain":[-32.62,22.71],"nice":false,"zero":false},"axis":null}}},
   {"mark":{"type":"line","color":"#7fdc7f","strokeWidth":1.6},"encoding":{"x":{"field":"i","type":"quantitative","scale":{"domain":[-0.55,93.73],"nice":false,"zero":false},"axis":null},"y":{"field":"macd","type":"quantitative","scale":{"domain":[-32.62,22.71],"nice":false,"zero":false},"axis":null}}},
   {"data":{"values":[{"t":"MACD"}]},"mark":{"type":"text","font":"DejaVu Sans","fontSize":11,"color":"#666666","align":"center","baseline":"middle"},"encoding":{"x":{"datum":46.59,"type":"quantitative","scale":{"domain":[-0.55,93.73],"nice":false,"zero":false},"axis":null},"y":{"datum":14.71,"type":"quantitative","scale":{"domain":[-32.62,22.71],"nice":false,"zero":false},"axis":null},"text":{"field":"t"}}},
   {"data":{"values":[{}]},"mark":{"type":"rect","fill":"#ffffff","stroke":"#888888","strokeWidth":1.5},"encoding":{"x":{"datum":-0.55,"type":"quantitative","scale":{"domain":[-0.55,93.73],"nice":false,"zero":false},"axis":null},"x2":{"datum":26.81},"y":{"datum":22.71,"type":"quantitative","scale":{"domain":[-32.62,22.71],"nice":false,"zero":false},"axis":null},"y2":{"datum":-32.62}}},
   {"data":{"values":[{"t":"Macd\u00a0\u00a0E19-E9\u00a0\u00a0\u00a0=\u00a0\u00a0-2.62"}]},"mark":{"type":"text","font":"DejaVu Sans","fontSize":28,"align":"left","baseline":"middle","color":"#62d862"},"encoding":{"x":{"datum":0.25,"type":"quantitative","scale":{"domain":[-0.55,93.73],"nice":false,"zero":false},"axis":null},"y":{"datum":4.05,"type":"quantitative","scale":{"domain":[-32.62,22.71],"nice":false,"zero":false},"axis":null},"text":{"field":"t"}}},
   {"data":{"values":[{"t":"Signal\u00a0\u00a0\u00a0E6\u00a0\u00a0=\u00a0-2.88"}]},"mark":{"type":"text","font":"DejaVu Sans","fontSize":28,"align":"left","baseline":"middle","color":"#d586e0"},"encoding":{"x":{"datum":0.25,"type":"quantitative","scale":{"domain":[-0.55,93.73],"nice":false,"zero":false},"axis":null},"y":{"datum":-19.29,"type":"quantitative","scale":{"domain":[-32.62,22.71],"nice":false,"zero":false},"axis":null},"text":{"field":"t"}}}
  ]
 },
 {"width":146,"height":83,"view":{"stroke":null},
  "layer":[
   {"data":{"values":[{"k":"Macd","v":-2.62}]},"mark":{"type":"rect","color":"#55d94a"},"encoding":{"x":{"datum":0,"type":"quantitative","scale":{"domain":[0,1],"nice":false,"zero":false},"axis":null},"x2":{"datum":0.53},"y":{"datum":18.71,"type":"quantitative","scale":{"domain":[-32.62,22.71],"nice":false,"zero":false},"axis":{"orient":"left","labels":false,"tickSize":3,"tickCount":6,"tickColor":"#555555","domain":false,"grid":false,"title":null}},"y2":{"datum":-1.29}}},
   {"data":{"values":[{"k":"Macd","v":-2.62}]},"mark":{"type":"text","font":"DejaVu Sans","fontSize":28,"color":"#ffffff","align":"center","baseline":"middle"},"encoding":{"x":{"datum":0.265,"type":"quantitative","scale":{"domain":[0,1],"nice":false,"zero":false},"axis":null},"y":{"datum":8.71,"type":"quantitative","scale":{"domain":[-32.62,22.71],"nice":false,"zero":false},"axis":{"orient":"left","labels":false,"tickSize":3,"tickCount":6,"tickColor":"#555555","domain":false,"grid":false,"title":null}},"text":{"field":"v","format":".2f"}}},
   {"data":{"values":[{"k":"Signal","v":-2.88}]},"mark":{"type":"rect","color":"#c95bdc"},"encoding":{"x":{"datum":0,"type":"quantitative","scale":{"domain":[0,1],"nice":false,"zero":false},"axis":null},"x2":{"datum":0.53},"y":{"datum":7.38,"type":"quantitative","scale":{"domain":[-32.62,22.71],"nice":false,"zero":false},"axis":{"orient":"left","labels":false,"tickSize":3,"tickCount":6,"tickColor":"#555555","domain":false,"grid":false,"title":null}},"y2":{"datum":-12.62}}},
   {"data":{"values":[{"k":"Signal","v":-2.88}]},"mark":{"type":"text","font":"DejaVu Sans","fontSize":28,"color":"#ffffff","align":"center","baseline":"middle"},"encoding":{"x":{"datum":0.265,"type":"quantitative","scale":{"domain":[0,1],"nice":false,"zero":false},"axis":null},"y":{"field":"v","type":"quantitative","scale":{"domain":[-32.62,22.71],"nice":false,"zero":false},"axis":{"orient":"left","labels":false,"tickSize":3,"tickCount":6,"tickColor":"#555555","domain":false,"grid":false,"title":null}},"text":{"field":"v","format":".2f"}}}
  ]
 }
]},
{"spacing":0,"hconcat":[
 {"width":1206,"height":77,
  "data":{"name":"px"},
  "layer":[
   {"data":{"values":[{"i":91}]},"mark":{"type":"rule","color":"#9a9a9a","strokeWidth":2},"encoding":{"x":{"field":"i","type":"quantitative","scale":{"domain":[-0.55,93.73],"nice":false,"zero":false},"axis":null}}},
   {"mark":{"type":"line","color":"#86dc86","strokeWidth":1.6},"encoding":{"x":{"field":"i","type":"quantitative","scale":{"domain":[-0.55,93.73],"nice":false,"zero":false},"axis":null},"y":{"field":"k","type":"quantitative","scale":{"domain":[0,100],"nice":false,"zero":false},"axis":null}}},
   {"mark":{"type":"line","color":"#333333","strokeWidth":1.8},"encoding":{"x":{"field":"i","type":"quantitative","scale":{"domain":[-0.55,93.73],"nice":false,"zero":false},"axis":null},"y":{"field":"dd","type":"quantitative","scale":{"domain":[0,100],"nice":false,"zero":false},"axis":null}}},
   {"data":{"values":[{"t":"Slow\u00a0\u00a0Stochastic"}]},"mark":{"type":"text","font":"DejaVu Sans","fontSize":11,"color":"#666666","align":"center","baseline":"middle"},"encoding":{"x":{"datum":46.59,"type":"quantitative","scale":{"domain":[-0.55,93.73],"nice":false,"zero":false},"axis":null},"y":{"datum":84.4,"type":"quantitative","scale":{"domain":[0,100],"nice":false,"zero":false},"axis":null},"text":{"field":"t"}}},
   {"data":{"values":[{}]},"mark":{"type":"rect","fill":"#ffffff","stroke":"#888888","strokeWidth":1.5},"encoding":{"x":{"datum":-0.55,"type":"quantitative","scale":{"domain":[-0.55,93.73],"nice":false,"zero":false},"axis":null},"x2":{"datum":18.06},"y":{"datum":100,"type":"quantitative","scale":{"domain":[0,100],"nice":false,"zero":false},"axis":null},"y2":{"datum":6.5}}},
   {"data":{"values":[{"t":"%K\u00a0\u00a09\u00a0\u00a0=\u00a0\u00a045.00"}]},"mark":{"type":"text","font":"DejaVu Sans","fontSize":28,"align":"left","baseline":"middle","color":"#62d862"},"encoding":{"x":{"datum":0.25,"type":"quantitative","scale":{"domain":[-0.55,93.73],"nice":false,"zero":false},"axis":null},"y":{"datum":84.4,"type":"quantitative","scale":{"domain":[0,100],"nice":false,"zero":false},"axis":null},"text":{"field":"t"}}},
   {"data":{"values":[{"t":"%D\u00a0\u00a03\u00a0\u00a0=\u00a0\u00a048.39"}]},"mark":{"type":"text","font":"DejaVu Sans","fontSize":28,"align":"left","baseline":"middle","color":"#111111"},"encoding":{"x":{"datum":0.25,"type":"quantitative","scale":{"domain":[-0.55,93.73],"nice":false,"zero":false},"axis":null},"y":{"datum":40.3,"type":"quantitative","scale":{"domain":[0,100],"nice":false,"zero":false},"axis":null},"text":{"field":"t"}}}
  ]
 },
 {"width":146,"height":77,"view":{"stroke":null},
  "layer":[
   {"data":{"values":[{"k":"%D","v":48.39}]},"mark":{"type":"rect","color":"#000000"},"encoding":{"x":{"datum":0,"type":"quantitative","scale":{"domain":[0,1],"nice":false,"zero":false},"axis":null},"x2":{"datum":0.582},"y":{"datum":94.8,"type":"quantitative","scale":{"domain":[0,100],"nice":false,"zero":false},"axis":{"orient":"left","labels":false,"tickSize":3,"tickCount":6,"tickColor":"#555555","domain":false,"grid":false,"title":null}},"y2":{"datum":55.8}}},
   {"data":{"values":[{"k":"%D","v":48.39}]},"mark":{"type":"text","font":"DejaVu Sans","fontSize":28,"color":"#ffffff","align":"center","baseline":"middle"},"encoding":{"x":{"datum":0.291,"type":"quantitative","scale":{"domain":[0,1],"nice":false,"zero":false},"axis":null},"y":{"datum":74,"type":"quantitative","scale":{"domain":[0,100],"nice":false,"zero":false},"axis":{"orient":"left","labels":false,"tickSize":3,"tickCount":6,"tickColor":"#555555","domain":false,"grid":false,"title":null}},"text":{"field":"v","format":".2f"}}},
   {"data":{"values":[{"k":"%K","v":45}]},"mark":{"type":"rect","color":"#55d94a"},"encoding":{"x":{"datum":0,"type":"quantitative","scale":{"domain":[0,1],"nice":false,"zero":false},"axis":null},"x2":{"datum":0.582},"y":{"datum":70.1,"type":"quantitative","scale":{"domain":[0,100],"nice":false,"zero":false},"axis":{"orient":"left","labels":false,"tickSize":3,"tickCount":6,"tickColor":"#555555","domain":false,"grid":false,"title":null}},"y2":{"datum":29.9}}},
   {"data":{"values":[{"k":"%K","v":45}]},"mark":{"type":"text","font":"DejaVu Sans","fontSize":28,"color":"#ffffff","align":"center","baseline":"middle"},"encoding":{"x":{"datum":0.291,"type":"quantitative","scale":{"domain":[0,1],"nice":false,"zero":false},"axis":null},"y":{"datum":50.6,"type":"quantitative","scale":{"domain":[0,100],"nice":false,"zero":false},"axis":{"orient":"left","labels":false,"tickSize":3,"tickCount":6,"tickColor":"#555555","domain":false,"grid":false,"title":null}},"text":{"field":"v","format":".2f"}}}
  ]
 }
]},
{"spacing":0,"hconcat":[
 {"width":1206,"height":78,
  "data":{"name":"px"},
  "layer":[
   {"mark":{"type":"line","color":"#444444","strokeWidth":1.5},"encoding":{
     "x":{"field":"i","type":"quantitative","scale":{"domain":[-0.55,93.73],"nice":false,"zero":false},
      "axis":{"orient":"bottom","values":[3,9,13,18,22,26,31,36,43,46,51,56,63,66,70,75,80,85],"labelExpr":"datum.value==3?'12/1':datum.value==9?'12/13':datum.value==13?'12/19':datum.value==18?'12/26':datum.value==22?'1/3':datum.value==26?'1/9':datum.value==31?'1/16':datum.value==36?'1/23':datum.value==43?'2/1':datum.value==46?'2/6':datum.value==51?'2/13':datum.value==56?'2/20':datum.value==63?'3/1':datum.value==66?'3/7':datum.value==70?'3/13':datum.value==75?'3/20':datum.value==80?'3/27':datum.value==85?'4/3':''","labelAlign":"left","labelFontSize":9,"labelColor":"#555555","labelPadding":0,"tickSize":4,"tickColor":"#777777","domainColor":"#555555","grid":false,"title":null,"labelOverlap":false,"labelFlush":false,"labelBound":false}},
     "y":{"field":"rsi","type":"quantitative","scale":{"domain":[17.25,69.25],"nice":false,"zero":false},"axis":null}}},
   {"data":{"values":[{"i":91}]},"mark":{"type":"rule","color":"#9a9a9a","strokeWidth":2},"encoding":{
     "x":{"field":"i","type":"quantitative","scale":{"domain":[-0.55,93.73],"nice":false,"zero":false},
      "axis":{"orient":"bottom","values":[0,22,43,63,85],"labelExpr":"datum.value==0?'Nov':datum.value==22?'Jan':datum.value==43?'Feb':datum.value==63?'Mar':datum.value==85?'Apr':''","offset":16,"labelAlign":"left","labelFontSize":9,"labelColor":"#555555","labelPadding":1,"tickSize":6,"tickColor":"#777777","domainColor":"#b0b0b0","domainWidth":3,"grid":false,"title":null,"labelOverlap":false,"labelFlush":false,"labelBound":false}}}},
   {"data":{"values":[{"t":"Relative\u00a0\u00a0Strength\u00a0\u00a0Index"}]},"mark":{"type":"text","font":"DejaVu Sans","fontSize":11,"color":"#666666","align":"center","baseline":"middle"},"encoding":{"x":{"datum":46.59,"type":"quantitative","scale":{"domain":[-0.55,93.73],"nice":false,"zero":false},"axis":null},"y":{"datum":62.59,"type":"quantitative","scale":{"domain":[17.25,69.25],"nice":false,"zero":false},"axis":null},"text":{"field":"t"}}},
   {"data":{"values":[{}]},"mark":{"type":"rect","fill":"#ffffff","stroke":"#888888","strokeWidth":1.5},"encoding":{"x":{"datum":-0.55,"type":"quantitative","scale":{"domain":[-0.55,93.73],"nice":false,"zero":false},"axis":null},"x2":{"datum":19.62},"y":{"datum":69.25,"type":"quantitative","scale":{"domain":[17.25,69.25],"nice":false,"zero":false},"axis":null},"y2":{"datum":35.92}}},
   {"data":{"values":[{"t":"RSI\u00a0\u00a0\u00a014\u00a0=\u00a0\u00a045.92"}]},"mark":{"type":"text","font":"DejaVu Sans","fontSize":28,"align":"left","baseline":"middle","color":"#111111"},"encoding":{"x":{"datum":0.25,"type":"quantitative","scale":{"domain":[-0.55,93.73],"nice":false,"zero":false},"axis":null},"y":{"datum":52.59,"type":"quantitative","scale":{"domain":[17.25,69.25],"nice":false,"zero":false},"axis":null},"text":{"field":"t"}}}
  ],
  "resolve":{"axis":{"x":"independent"}}
 },
 {"width":146,"height":78,"view":{"stroke":null},
  "data":{"values":[{"k":"RSI","v":45.92}]},
  "layer":[
   {"mark":{"type":"rect","color":"#000000"},"encoding":{"x":{"datum":0,"type":"quantitative","scale":{"domain":[0,1],"nice":false,"zero":false},"axis":{"title":"Day","orient":"bottom","labels":false,"ticks":false,"domain":false,"grid":false,"titleFontSize":13,"titleColor":"#777777","titleAnchor":"end","titlePadding":10}},"x2":{"datum":0.582},"y":{"datum":55.25,"type":"quantitative","scale":{"domain":[17.25,69.25],"nice":false,"zero":false},"axis":{"orient":"left","labels":false,"tickSize":3,"tickCount":6,"tickColor":"#555555","domain":false,"grid":false,"title":null}},"y2":{"datum":35.25}}},
   {"mark":{"type":"text","font":"DejaVu Sans","fontSize":28,"color":"#ffffff","align":"center","baseline":"middle"},"encoding":{"x":{"datum":0.291,"type":"quantitative","scale":{"domain":[0,1],"nice":false,"zero":false},"axis":{"title":"Day","orient":"bottom","labels":false,"ticks":false,"domain":false,"grid":false,"titleFontSize":13,"titleColor":"#777777","titleAnchor":"end","titlePadding":10}},"y":{"field":"v","type":"quantitative","scale":{"domain":[17.25,69.25],"nice":false,"zero":false},"axis":{"orient":"left","labels":false,"tickSize":3,"tickCount":6,"tickColor":"#555555","domain":false,"grid":false,"title":null}},"text":{"field":"v","format":".2f"}}}
  ]
 }
]}
]
}
